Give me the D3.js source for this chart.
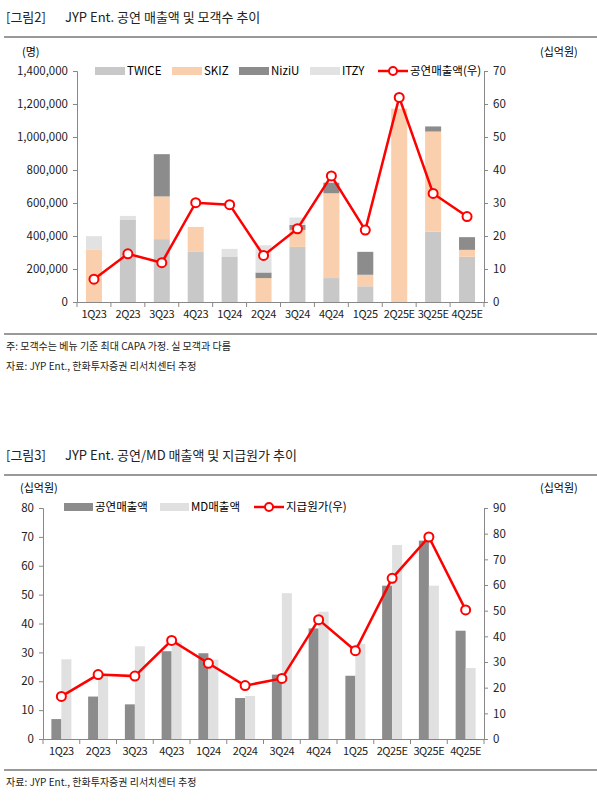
<!DOCTYPE html>
<html><head><meta charset="utf-8">
<script src="https://cdn.jsdelivr.net/npm/d3@7"></script>
<style>
body{margin:0;background:#fff;font-family:"Noto Sans CJK KR","Noto Sans",sans-serif;}
text{font-family:"Noto Sans CJK KR","Noto Sans",sans-serif;}
</style></head><body>
<script>
// data
var quarters = ["1Q23","2Q23","3Q23","4Q23","1Q24","2Q24","3Q24","4Q24","1Q25","2Q25E","3Q25E","4Q25E"];
var twice = [0,497000,381000,304000,276000,0,334000,145000,95000,0,427000,274000];
var skiz  = [316000,0,259000,151000,0,145000,103000,514000,70000,1172000,606000,42000];
var niziu = [0,0,256000,0,0,34000,30000,64000,139000,0,31000,77000];
var itzy  = [83000,25000,0,0,46000,165000,45000,0,0,0,0,0];
var concertRev1 = [6.9,14.6,11.9,30.1,29.5,14.1,22.2,38.2,21.8,62.0,32.9,25.9];

var concertRev = [6.9,14.7,12.0,30.4,29.7,14.2,22.3,38.3,21.9,53.1,68.7,37.5];
var mdRev      = [27.6,22.5,32.1,33.7,27.5,14.9,50.5,44.1,32.9,67.2,53.1,24.6];
var cogs       = [16.6,25.1,24.5,38.4,29.5,20.8,23.6,46.5,34.4,62.6,78.7,50.3];

var W = 597, H = 806;
var svg = d3.select("body").append("svg").attr("width", W).attr("height", H);

function header(y, label, title) {
  svg.append("text").attr("x", 6).attr("y", y).attr("font-size", 13).attr("fill", "#222").text(label);
  svg.append("text").attr("x", 65).attr("y", y).attr("font-size", 13).attr("fill", "#222").text(title);
  svg.append("line").attr("x1", 4).attr("x2", 597).attr("y1", y + 15).attr("y2", y + 15)
    .attr("stroke", "#777").attr("stroke-width", 1.5);
}

function axes(g, x, yl, yr, left, right, bottom, lfmt, ticksL, ticksR) {
  g.append("g").attr("transform", "translate(" + left + ",0)")
    .call(d3.axisLeft(yl).tickValues(ticksL).tickFormat(lfmt).tickSize(4).tickPadding(5));
  g.append("g").attr("transform", "translate(" + right + ",0)")
    .call(d3.axisRight(yr).tickValues(ticksR).tickSize(4).tickPadding(5));
  var xa = g.append("g").attr("class", "xaxis").attr("transform", "translate(0," + bottom + ")")
    .call(d3.axisBottom(x).tickSize(0).tickPadding(8));
  // tick marks between categories
  quarters.forEach(function (q) {
    xa.append("line").attr("x1", x(q)).attr("x2", x(q))
      .attr("y1", 0).attr("y2", 5).attr("stroke", "#888");
  });
  xa.append("line").attr("x1", right).attr("x2", right).attr("y1", 0).attr("y2", 5).attr("stroke", "#888");
  g.selectAll(".domain").attr("stroke", "#888");
  g.selectAll(".tick line").attr("stroke", "#888");
  g.selectAll(".tick text").attr("font-size", 11.5).attr("fill", "#222");
  xa.selectAll(".tick text").attr("font-size", 11).attr("letter-spacing", "-0.4");
}

// ---------- chart 1 ----------
header(22, "[그림2]", "JYP Ent. 공연 매출액 및 모객수 추이");
var L1 = 77, R1 = 484, T1 = 71, B1 = 302;
var g1 = svg.append("g");
var x1 = d3.scaleBand().domain(quarters).range([L1, R1]);
var y1 = d3.scaleLinear().domain([0, 1400000]).range([B1, T1]);
var y1r = d3.scaleLinear().domain([0, 70]).range([B1, T1]);

var stackData = quarters.map(function (q, i) {
  return { q: q, TWICE: twice[i], SKIZ: skiz[i], NiziU: niziu[i], ITZY: itzy[i] };
});
var keys = ["TWICE", "SKIZ", "NiziU", "ITZY"];
var colors1 = { TWICE: "#c8c8c8", SKIZ: "#f9cfad", NiziU: "#8c8c8c", ITZY: "#e2e2e2" };
var series = d3.stack().keys(keys)(stackData);
var bw1 = 16;
series.forEach(function (s) {
  g1.selectAll(null).data(s).enter().append("rect")
    .attr("x", function (d) { return x1(d.data.q) + x1.bandwidth() / 2 - bw1 / 2; })
    .attr("width", bw1)
    .attr("y", function (d) { return y1(d[1]); })
    .attr("height", function (d) { return y1(d[0]) - y1(d[1]); })
    .attr("fill", colors1[s.key]);
});
axes(g1, x1, y1, y1r, L1, R1, B1, d3.format(",d"),
  d3.range(0, 1400001, 200000), d3.range(0, 71, 10));
svg.append("text").attr("x", 22).attr("y", 56).attr("font-size", 11).text("(명)");
svg.append("text").attr("x", 540).attr("y", 56).attr("font-size", 11).text("(십억원)");

var line1 = d3.line().x(function (d, i) { return x1(quarters[i]) + x1.bandwidth() / 2; })
  .y(function (d) { return y1r(d); });
g1.append("path").datum(concertRev1).attr("d", line1).attr("fill", "none").attr("stroke", "#f00").attr("stroke-width", 2.5);
g1.selectAll(null).data(concertRev1).enter().append("circle")
  .attr("cx", function (d, i) { return x1(quarters[i]) + x1.bandwidth() / 2; })
  .attr("cy", function (d) { return y1r(d); })
  .attr("r", 4.5).attr("fill", "#fff").attr("stroke", "#f00").attr("stroke-width", 2);

// legend 1
var lg1 = [{ k: "TWICE", x: 95 }, { k: "SKIZ", x: 172 }, { k: "NiziU", x: 239 }, { k: "ITZY", x: 310 }];
lg1.forEach(function (d) {
  svg.append("rect").attr("x", d.x).attr("y", 67).attr("width", 30).attr("height", 8).attr("fill", colors1[d.k]);
  svg.append("text").attr("x", d.x + 32).attr("y", 75).attr("font-size", 11.5).text(d.k);
});
svg.append("line").attr("x1", 378).attr("x2", 408).attr("y1", 71).attr("y2", 71).attr("stroke", "#f00").attr("stroke-width", 2.5);
svg.append("circle").attr("cx", 393).attr("cy", 71).attr("r", 4).attr("fill", "#fff").attr("stroke", "#f00").attr("stroke-width", 2);
svg.append("text").attr("x", 410).attr("y", 75).attr("font-size", 11.5).text("공연매출액(우)");

svg.append("line").attr("x1", 4).attr("x2", 597).attr("y1", 334).attr("y2", 334).attr("stroke", "#777").attr("stroke-width", 1.5);
svg.append("text").attr("x", 6).attr("y", 350).attr("font-size", 10).attr("fill", "#222").text("주: 모객수는 베뉴 기준 최대 CAPA 가정. 실 모객과 다름");
svg.append("text").attr("x", 6).attr("y", 370).attr("font-size", 10).attr("fill", "#222").text("자료: JYP Ent., 한화투자증권 리서치센터 추정");

// ---------- chart 2 ----------
header(460, "[그림3]", "JYP Ent. 공연/MD 매출액 및 지급원가 추이");
var L2 = 43, R2 = 484, T2 = 508, B2 = 739;
var g2 = svg.append("g");
var x2 = d3.scaleBand().domain(quarters).range([L2, R2]);
var y2 = d3.scaleLinear().domain([0, 80]).range([B2, T2]);
var y2r = d3.scaleLinear().domain([0, 90]).range([B2, T2]);
var bw2 = 10;
g2.selectAll(null).data(concertRev).enter().append("rect")
  .attr("x", function (d, i) { return x2(quarters[i]) + x2.bandwidth() / 2 - bw2; })
  .attr("width", bw2).attr("y", function (d) { return y2(d); })
  .attr("height", function (d) { return B2 - y2(d); }).attr("fill", "#8c8c8c");
g2.selectAll(null).data(mdRev).enter().append("rect")
  .attr("x", function (d, i) { return x2(quarters[i]) + x2.bandwidth() / 2; })
  .attr("width", bw2).attr("y", function (d) { return y2(d); })
  .attr("height", function (d) { return B2 - y2(d); }).attr("fill", "#e0e0e0");
axes(g2, x2, y2, y2r, L2, R2, B2, d3.format("d"), d3.range(0, 81, 10), d3.range(0, 91, 10));
svg.append("text").attr("x", 20).attr("y", 492).attr("font-size", 11).text("(십억원)");
svg.append("text").attr("x", 540).attr("y", 492).attr("font-size", 11).text("(십억원)");

var line2 = d3.line().x(function (d, i) { return x2(quarters[i]) + x2.bandwidth() / 2; })
  .y(function (d) { return y2r(d); });
g2.append("path").datum(cogs).attr("d", line2).attr("fill", "none").attr("stroke", "#f00").attr("stroke-width", 2.5);
g2.selectAll(null).data(cogs).enter().append("circle")
  .attr("cx", function (d, i) { return x2(quarters[i]) + x2.bandwidth() / 2; })
  .attr("cy", function (d) { return y2r(d); })
  .attr("r", 4.5).attr("fill", "#fff").attr("stroke", "#f00").attr("stroke-width", 2);

svg.append("rect").attr("x", 64).attr("y", 503).attr("width", 29).attr("height", 8).attr("fill", "#8c8c8c");
svg.append("text").attr("x", 95).attr("y", 511).attr("font-size", 11.5).text("공연매출액");
svg.append("rect").attr("x", 160).attr("y", 503).attr("width", 29).attr("height", 8).attr("fill", "#e0e0e0");
svg.append("text").attr("x", 191).attr("y", 511).attr("font-size", 11.5).text("MD매출액");
svg.append("line").attr("x1", 254).attr("x2", 284).attr("y1", 507).attr("y2", 507).attr("stroke", "#f00").attr("stroke-width", 2.5);
svg.append("circle").attr("cx", 269).attr("cy", 507).attr("r", 4).attr("fill", "#fff").attr("stroke", "#f00").attr("stroke-width", 2);
svg.append("text").attr("x", 286).attr("y", 511).attr("font-size", 11.5).text("지급원가(우)");

svg.append("line").attr("x1", 4).attr("x2", 597).attr("y1", 770).attr("y2", 770).attr("stroke", "#777").attr("stroke-width", 1.5);
svg.append("text").attr("x", 6).attr("y", 786).attr("font-size", 10).attr("fill", "#222").text("자료: JYP Ent., 한화투자증권 리서치센터 추정");
</script>
</body></html>
